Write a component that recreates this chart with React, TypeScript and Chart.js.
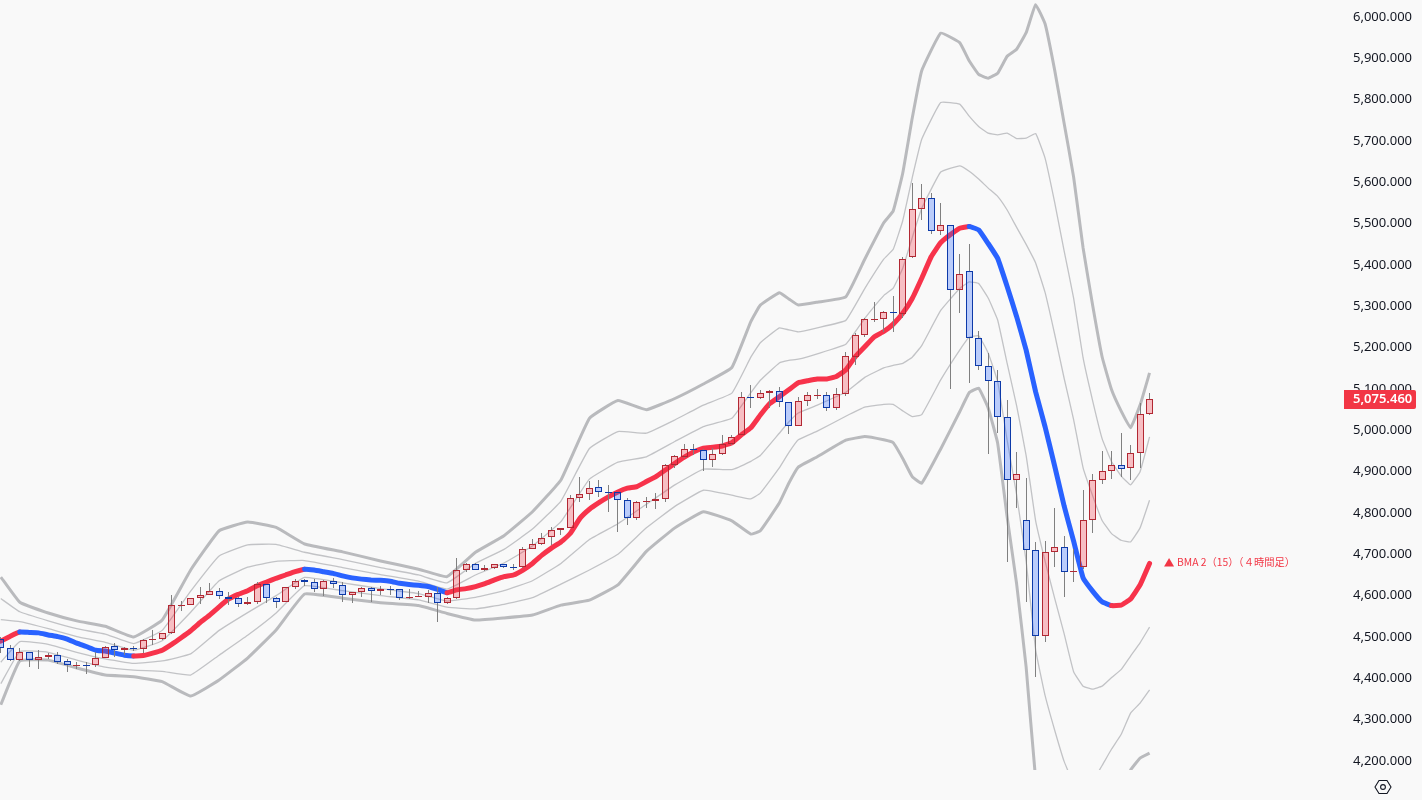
import React, { useEffect, useRef } from "react";
import { Chart, registerables } from "chart.js";

Chart.register(...registerables);

const opens = [4494.4,4472.6,4443.6,4462.9,4443.6,4450.8,4455.7,4441.2,4431,4431.5,
4431.5,4448.4,4477.5,4467.8,4473,4470.2,4494,4494.4,4508.9,4576.5,
4576.7,4593.6,4600.9,4610.5,4596,4593.6,4579.1,4583.9,4627.5,4593.6,
4583.9,4620.2,4637.1,4632.3,4615.4,4634.7,4625,4600.9,4608.1,4617.8,
4610.5,4615.6,4615.4,4593.6,4598,4597.5,4605.7,4581.5,4593.6,4661.4,
4675.9,4661.4,4666.2,4675.9,4669,4668.6,4712.2,4724.3,4741.3,4758.2,
4763.1,4835.5,4845.2,4862.1,4850.4,4850,4830.7,4787.2,4825.8,4828.3,
4833.1,4915.4,4934.7,4954.4,4951.7,4927.5,4942,4966.2,4988,5079.9,
5077.5,5089.6,5094.4,5067.8,5009.8,5070.2,5084.4,5084.7,5053.3,5087.1,
5176.6,5229.9,5268.2,5268.6,5285.5,5280.7,5418.6,5534.7,5561.4,5481.5,
5496,5338.8,5384.7,5222.6,5154.9,5118.6,5031.5,4879.1,4782.3,4709.8,
4501.7,4704.9,4717,4658.5,4668.6,4782.3,4879.1,4900.9,4915.4,4908.1,
4944.4,5038.8];

const closes = [4472.6,4443.6,4462.9,4443.6,4450.8,4455.7,4438.7,4431.5,4432,4431,
4448.4,4476.5,4467.8,4472.6,4472.5,4492,4494.6,4508.9,4576.7,4577,
4593.6,4600.9,4610.5,4598.5,4592.9,4579.1,4583.9,4627.5,4593.6,4583.9,
4620.2,4634.7,4632.3,4615.4,4634.7,4627.5,4600.9,4608.1,4617.8,4610.5,
4615.4,4615.2,4593.6,4596,4598.8,4605.7,4581.5,4593.6,4661.4,4675.9,
4661.4,4666.2,4675.9,4668.6,4668.4,4712.2,4724.3,4738.8,4758.2,4763.1,
4835.5,4845.2,4859.7,4850,4849.8,4830.7,4787.2,4825.8,4828.3,4833.1,
4915.4,4937.2,4954.1,4953.9,4927.5,4942,4966.2,4983.1,5079.9,5077.5,
5089.6,5094.4,5067.8,5009.8,5070.2,5084.7,5085,5053.3,5087.1,5179,
5229.9,5268.6,5268.8,5285.5,5283.1,5413.8,5534.7,5561.4,5481.5,5496,
5338.8,5377.5,5222.6,5154.9,5118.6,5031.5,4879.1,4893.6,4709.8,4501.7,
4704.9,4717,4656.5,4659.4,4782.3,4879.1,4900.9,4915.4,4905.7,4944.4,
5038.8,5075.46];

const highs = [4500,4480.6,4473.3,4463.7,4468.5,4461.2,4463.7,4446.7,4439.5,4439.5,
4463.7,4478.2,4485.4,4475.8,4478.2,4495.1,4516.9,4509.6,4601.6,4587.1,
4594.3,4620.9,4630.6,4618.5,4608.9,4596.8,4596.8,4633,4628.2,4596.8,
4620.9,4639.5,4639.5,4639.5,4637.1,4642,4633,4608.9,4620.9,4620.9,
4623.3,4623.3,4616.1,4616.1,4611.3,4613.7,4620.9,4596.8,4691.1,4679,
4679,4674.2,4676.6,4676.6,4676.6,4717.7,4737.1,4751.6,4766.1,4763.8,
4843.5,4887,4877.4,4879.8,4867.7,4850.7,4836.3,4829,4838.7,4848.4,
4918.5,4940.3,4966.9,4966.9,4954.8,4957.2,4988.7,4988.7,5092.7,5109.5,
5097.6,5097.6,5104.8,5068.5,5080.7,5092.7,5100,5092.7,5102.4,5189.5,
5235.4,5271.7,5310.5,5288.7,5325,5419.4,5598.4,5596,5574.2,5550,
5496.8,5426.6,5450.8,5240.3,5187,5145.9,5073.4,4946.8,4884,4729.1,
4731.5,4811.3,4743.6,4712.2,4855,4893.6,4950,4950,4992.8,4963.7,
5065.4,5090.3];

const lows = [4461.3,4443,4441.9,4427.4,4422.5,4446.7,4434.6,4415.3,4422.5,4410.4,
4427.4,4448,4451.6,4456.4,4466.1,4461.2,4480.6,4492.7,4507.2,4562.9,
4576.2,4579.8,4600.4,4591.9,4577.4,4572.6,4578.6,4579.8,4582.2,4570.1,
4583.5,4615.3,4623.3,4608.9,4599.3,4618.5,4584.7,4582.2,4596.8,4584.7,
4601.1,4601.1,4589.5,4593.1,4596.8,4582.2,4536.3,4581,4593.1,4657.2,
4660.9,4659.7,4665,4667.5,4661.9,4667.5,4711.7,4722.6,4722.6,4746.8,
4762.6,4826.6,4831.4,4838.7,4802.4,4754,4771,4782.9,4812.1,4809.7,
4826.6,4908.9,4932.2,4940.3,4901.6,4911.3,4940.3,4964.5,4987.5,5054,
5075.8,5054,5056.4,4991,5009.3,5058.9,5075.8,5046.7,5049.1,5083.1,
5158,5225,5262,5237.9,5237.9,5271.7,5418,5508.9,5474.9,5472.6,
5099.9,5283.9,5114.5,5145.9,4942.7,4992.8,4682.2,4811.3,4583.9,4402.5,
4487.1,4668.6,4596,4632.3,4663.8,4752.3,4870.8,4882.9,4886.3,4880.5,
4909.6,5036.4];

// The moving average, one value per candle
const basis = [4490,4502,4512,4511,4510,4505,4501,4495,4485,4477,
4468,4466,4461,4456,4454,4455,4461,4468,4482,4498,
4515,4535,4553,4573,4592,4603,4612,4624,4633,4642,
4650,4658,4664,4662,4658,4654,4648,4643,4640,4638,
4637,4635,4630,4627,4625,4622,4615,4607,4614,4617,
4622,4629,4638,4646,4650,4662,4678,4698,4715,4730,
4751,4787,4809,4825,4839,4851,4860,4864,4876,4888,
4904,4920,4935,4948,4957,4959,4962,4970,4989,5006,
5037,5065,5081,5098,5115,5120,5124,5124,5130,5146,
5178,5202,5226,5239,5257,5283,5319,5368,5420,5454,
5473,5489,5493,5485,5452,5416,5348,5275,5194,5093,
5008,4914,4817,4732,4643,4611,4585,4576,4577,4592,
4626,4678];

// Candle index of each recorded vertex of the band lines
const bandIndex = [0,2,5,8,11,14,17,20,23,26,29,32,36,40,44,47,50,53,56,59,62,65,68,71,74,77,79,80,82,83,84,86,89,91,93,94,95,96,97,99,101,102,103,104,105,106,107,108,109,110,111,112,113,114,115,116,117,118,119,120,121];

const upper3 = [4645,4584,4558,4539,4526,4500,4541,4662,4757,4778,4765,4725,4706,4684,4664,4646,4705,4745,4803,4880,5029,5072,5050,5077,5112,5152,5263,5303,5333,5318,5303,5310,5323,5414,5502,5531,5622,5755,5870,5961,5938,5894,5861,5852,5864,5905,5922,5962,6030,5983,5872,5743,5613,5441,5303,5178,5098,5047,5006,5061,5139];
const upper2 = [4593,4561,4539,4520,4507,4484,4516,4611,4696,4723,4724,4705,4687,4668,4650,4631,4678,4712,4761,4829,4956,4997,4993,5025,5061,5090,5177,5212,5248,5243,5238,5248,5266,5343,5414,5438,5507,5611,5704,5793,5789,5760,5735,5719,5715,5719,5706,5707,5718,5658,5552,5434,5320,5175,5072,4980,4924,4890,4868,4900,4984];
const upper1 = [4542,4537,4520,4501,4487,4468,4491,4560,4636,4669,4683,4685,4668,4651,4635,4616,4650,4679,4720,4779,4882,4923,4936,4973,5009,5029,5091,5121,5163,5169,5172,5185,5208,5271,5326,5344,5392,5466,5537,5625,5640,5627,5608,5586,5566,5533,5491,5450,5405,5333,5233,5126,5026,4909,4842,4782,4750,4734,4730,4764,4831];
const lower1 = [4439,4489,4482,4463,4447,4436,4442,4459,4516,4559,4600,4644,4631,4617,4605,4587,4596,4612,4636,4678,4736,4774,4821,4868,4906,4905,4925,4939,4993,5020,5042,5061,5092,5128,5151,5157,5162,5177,5205,5290,5343,5359,5355,5320,5267,5162,5059,4939,4781,4683,4594,4508,4416,4381,4374,4381,4402,4421,4454,4486,4524];
const lower2 = [4387,4465,4463,4444,4427,4420,4417,4408,4456,4504,4558,4624,4612,4600,4590,4572,4568,4579,4595,4628,4662,4700,4764,4816,4855,4843,4834,4848,4909,4946,4977,4998,5034,5056,5063,5063,5047,5033,5038,5122,5194,5225,5229,5187,5118,4976,4844,4683,4469,4358,4275,4199,4145,4111,4150,4189,4229,4264,4316,4340,4372];
const lower3 = [4336,4442,4444,4425,4408,4404,4392,4357,4396,4449,4517,4604,4594,4583,4576,4557,4541,4546,4553,4577,4589,4626,4707,4764,4803,4781,4749,4757,4824,4872,4911,4936,4976,4985,4977,4970,4932,4888,4872,4955,5045,5091,5102,5054,4969,4790,4628,4427,4156,4033,3955,3891,3851,3845,3919,3992,4055,4108,4178,4207,4219];

const priceTicks = [6000,5900,5800,5700,5600,5500,5400,5300,5200,5100,5000,4900,4800,4700,4600,4500,4400,4300,4200];
const seriesLabel = "BMA 2（15）（４時間足）";
const lastPrice = closes[closes.length - 1];
const lastBasis = basis[basis.length - 1];

const RED = "#f23645";
const BASIS_RED = "#f7334b";
const BLUE = "#2962ff";
const TEXT = "#131722";
const fmt = (v: number) => v.toLocaleString("en-US", { minimumFractionDigits: 3, maximumFractionDigits: 3 });
const up = (i: number) => closes[i] >= opens[i];
const asLine = (arr: number[]) => arr.map((y, k) => ({ x: bandIndex[k], y }));

function bandSet(label: string, arr: number[], width: number, color: string) {
  return {
    type: "line" as const, label, data: asLine(arr), borderColor: color, borderWidth: width,
    pointRadius: 0, tension: 0.1, order: 4, borderJoinStyle: "round" as const,
  };
}

const candleSnap = {
  id: "candleSnap",
  beforeDatasetsDraw(chart: any) {
    chart.data.datasets.forEach((d: any, idx: number) => {
      if (d.type !== "bar") return;
      chart.getDatasetMeta(idx).data.forEach((el: any) => {
        el.x = Math.floor(el.x) + 0.5;
        el.y = Math.round(el.y);
        el.base = Math.round(el.base);
        if (d.label === "body" && Math.abs(el.y - el.base) < 1) el.base = el.y + 1;
      });
    });
  },
};

const overlay = {
  id: "overlay",
  afterDraw(chart: any) {
    const { ctx, scales } = chart;
    const y = scales.y;
    const x = scales.x;
    ctx.save();
    const right = chart.chartArea.right;
    const py = y.getPixelForValue(lastPrice);
    ctx.fillStyle = RED;
    ctx.beginPath();
    ctx.roundRect(right, Math.round(py) - 9, 72, 19, [0, 2, 2, 0]);
    ctx.fill();
    ctx.fillStyle = "#ffffff";
    ctx.font = "600 13px 'Noto Sans'";
    ctx.textBaseline = "middle";
    ctx.textAlign = "left";
    ctx.fillText(fmt(lastPrice), right + 9, Math.round(py));
    const lx = x.getPixelForValue(opens.length - 1) + 14.5;
    const ly = y.getPixelForValue(lastBasis) - 1;
    ctx.fillStyle = RED;
    ctx.beginPath();
    ctx.moveTo(lx, ly + 4);
    ctx.lineTo(lx + 10, ly + 4);
    ctx.lineTo(lx + 5, ly - 4.5);
    ctx.closePath();
    ctx.fill();
    ctx.font = "10.3px 'Noto Sans CJK JP'";
    ctx.fillText(seriesLabel, lx + 13, ly);
    ctx.restore();
  },
};

export default function App() {
  const ref = useRef<HTMLCanvasElement | null>(null);
  useEffect(() => {
    if (!ref.current) return;
    const wick = (label: string, pick: (i: number) => [number, number]) => ({
      type: "bar" as const, label, data: opens.map((_, i) => ({ x: i, y: pick(i) })),
      backgroundColor: "#808080", borderWidth: 0, barThickness: 1, grouped: false, order: 2, inflateAmount: 0,
    });
    const chart = new Chart(ref.current, {
      type: "bar",
      data: {
        datasets: [
          {
            type: "bar", label: "body",
            data: opens.map((o, i) => ({ x: i, y: [o, closes[i]] })),
            backgroundColor: opens.map((_, i) => (up(i) ? "rgba(242,54,69,0.3)" : "rgba(41,98,255,0.3)")),
            borderColor: opens.map((_, i) => (up(i) ? "#b22833" : "#0d3aa9")),
            borderWidth: 1, borderSkipped: false, barThickness: 7, grouped: false, order: 1, inflateAmount: 0,
          },
          wick("wickHigh", (i) => [Math.max(opens[i], closes[i]), highs[i]]),
          wick("wickLow", (i) => [lows[i], Math.min(opens[i], closes[i])]),
          {
            type: "line", label: "basis", data: basis.map((y, i) => ({ x: i, y })), borderWidth: 5, pointRadius: 0, tension: 0.1, order: 3,
            borderColor: BASIS_RED, borderJoinStyle: "round", borderCapStyle: "round",
            segment: { borderColor: (c: any) => (c.p1.parsed.y >= c.p0.parsed.y ? BASIS_RED : BLUE) },
          },
          bandSet("upper3", upper3, 3, "#b9babd"),
          bandSet("upper2", upper2, 1.3, "#c2c3c6"),
          bandSet("upper1", upper1, 1.3, "#c2c3c6"),
          bandSet("lower1", lower1, 1.3, "#c2c3c6"),
          bandSet("lower2", lower2, 1.3, "#c2c3c6"),
          bandSet("lower3", lower3, 3, "#b9babd"),
        ] as any,
      },
      options: {
        responsive: false,
        animation: false,
        events: [],
        layout: { autoPadding: false, padding: { left: 0, top: 0, right: 0, bottom: 30 } },
        plugins: { legend: { display: false }, tooltip: { enabled: false } },
        scales: {
          x: { type: "linear", display: false, offset: false, min: -0.084, max: 141.48, grid: { display: false } },
          y: {
            type: "linear", position: "right", min: 4178.2, max: 6041.1,
            grid: { display: false, drawTicks: false }, border: { display: false },
            afterBuildTicks: (s: any) => { s.ticks = priceTicks.map((value) => ({ value })); },
            afterFit: (s: any) => { s.width = 78; s.paddingTop = 0; s.paddingBottom = 0; },
            ticks: {
              autoSkip: false, padding: 9, color: TEXT,
              font: { family: "'Noto Sans'", size: 13 },
              callback: (v: any) => fmt(Number(v)),
            },
          },
        },
      } as any,
      plugins: [candleSnap, overlay],
    });
    return () => chart.destroy();
  }, []);

  return (
    <div style={{ position: "fixed", left: 0, top: 0, width: 1422, height: 800, background: "#f9f9f9", overflow: "hidden" }}>
      <canvas ref={ref} width={1422} height={800} style={{ display: "block", width: 1422, height: 800 }} />
      <svg width="18" height="16" viewBox="0 0 18 16" style={{ position: "absolute", left: 1374, top: 779 }}>
        <polygon points="1,8 5,1.5 13,1.5 17,8 13,14.5 5,14.5" fill="none" stroke={TEXT} strokeWidth="1.1" />
        <circle cx="9" cy="8" r="2.4" fill="none" stroke={TEXT} strokeWidth="1.1" />
      </svg>
    </div>
  );
}
